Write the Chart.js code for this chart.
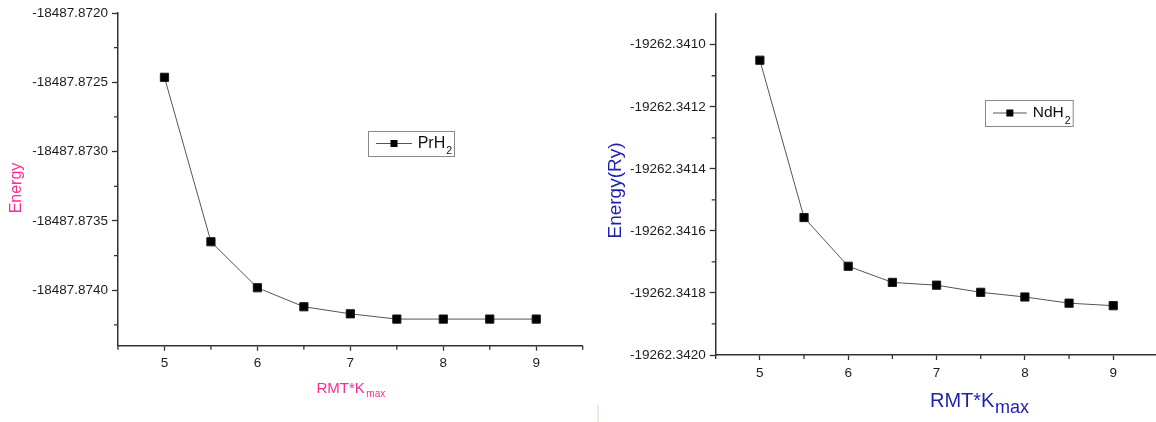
<!DOCTYPE html>
<html>
<head>
<meta charset="utf-8">
<script src="https://cdn.jsdelivr.net/npm/chart.js@4.4.1/dist/chart.umd.min.js"></script>
<style>
  html, body { margin: 0; padding: 0; background: #ffffff; overflow: hidden; width: 1156px; height: 422px; }
  .panel { position: absolute; top: 0; }
  #leftPanel { left: 0; }
  #rightPanel { left: 590px; }
  #seam { position: absolute; left: 597px; top: 405px; width: 2px; height: 17px; background: #efebdc; }
</style>
</head>
<body>
<div class="panel" id="leftPanel"><canvas id="prCanvas" width="590" height="422"></canvas></div>
<div class="panel" id="rightPanel"><canvas id="ndCanvas" width="580" height="422"></canvas></div>
<div id="seam"></div>
<script>
// RMT*Kmax convergence test: total energy vs. basis-set cutoff
const rmtKmax = [5, 5.5, 6, 6.5, 7, 7.5, 8, 8.5, 9];
const energyPrH2 = [-18487.872464, -18487.87365, -18487.873982, -18487.874119, -18487.87417,
                    -18487.874208, -18487.874208, -18487.874208, -18487.874208];
const energyNdH2 = [-19262.34105, -19262.341557, -19262.341714, -19262.341766, -19262.341775,
                    -19262.341798, -19262.341813, -19262.341833, -19262.341841];

const xTicks = [5, 6, 7, 8, 9];
const xMinorTicks = [4.5, 5.5, 6.5, 7.5, 8.5, 9.5];
const prTicks = [-18487.8720, -18487.8725, -18487.8730, -18487.8735, -18487.8740];
const prMinorTicks = [-18487.87225, -18487.87275, -18487.87325, -18487.87375, -18487.87425];
const ndTicks = [-19262.3410, -19262.3412, -19262.3414, -19262.3416, -19262.3418, -19262.3420];
const ndMinorTicks = [-19262.3411, -19262.3413, -19262.3415, -19262.3417, -19262.3419];

const FONT = '"Liberation Sans", Arial, sans-serif';
const AXIS_COLOR = '#333333';

// Short outward minor ticks, Origin style
const minorTicksPlugin = {
  id: 'minorTicks',
  afterDraw(chart, args, opts) {
    const ctx = chart.ctx;
    const xs = chart.scales.x, ys = chart.scales.y;
    const a = chart.chartArea;
    ctx.save();
    ctx.strokeStyle = AXIS_COLOR;
    ctx.lineWidth = 1.3;
    ctx.beginPath();
    opts.x.forEach(v => {
      const px = xs.getPixelForValue(v);
      ctx.moveTo(px, a.bottom);
      ctx.lineTo(px, a.bottom + 4);
    });
    opts.y.forEach(v => {
      const py = ys.getPixelForValue(v);
      ctx.moveTo(a.left, py);
      ctx.lineTo(a.left - 4, py);
    });
    ctx.stroke();
    ctx.restore();
  }
};

// Axis titles, with a subscript part on the x title
const axisTitlesPlugin = {
  id: 'axisTitles',
  afterDraw(chart, args, o) {
    const ctx = chart.ctx;
    ctx.save();
    ctx.fillStyle = o.color;
    ctx.textBaseline = 'alphabetic';
    ctx.textAlign = 'left';
    ctx.font = o.xSize + 'px ' + FONT;
    ctx.fillText(o.xMain, o.xX, o.xBase);
    const w = ctx.measureText(o.xMain).width;
    ctx.font = o.xSubSize + 'px ' + FONT;
    ctx.fillText(o.xSub, o.xX + w + o.xSubGap, o.xSubBase);
    ctx.translate(o.yX, o.yY);
    ctx.rotate(-Math.PI / 2);
    ctx.font = o.ySize + 'px ' + FONT;
    ctx.textAlign = 'center';
    ctx.textBaseline = 'middle';
    ctx.fillText(o.yText, 0, 0);
    ctx.restore();
  }
};

// Boxed legend with chemical-formula subscript
const formulaLegendPlugin = {
  id: 'formulaLegend',
  afterDraw(chart, args, o) {
    const ctx = chart.ctx;
    const ds = chart.data.datasets[0];
    const m = /^(.*?)(\d+)$/.exec(ds.label);
    const base = m ? m[1] : ds.label, sub = m ? m[2] : '';
    ctx.save();
    ctx.fillStyle = '#ffffff';
    ctx.fillRect(o.x, o.y, o.w, o.h);
    ctx.strokeStyle = '#888888';
    ctx.lineWidth = 1;
    ctx.strokeRect(o.x + 0.5, o.y + 0.5, o.w, o.h);
    const cy = o.y + o.h / 2;
    ctx.strokeStyle = ds.borderColor;
    ctx.lineWidth = 1;
    ctx.beginPath();
    ctx.moveTo(o.x + o.lineStart, cy);
    ctx.lineTo(o.x + o.lineEnd, cy);
    ctx.stroke();
    const mx = o.x + (o.lineStart + o.lineEnd) / 2;
    ctx.fillStyle = '#000000';
    ctx.fillRect(mx - 3.5, cy - 3.5, 7, 7);
    ctx.fillStyle = '#111111';
    ctx.textAlign = 'left';
    ctx.textBaseline = 'alphabetic';
    ctx.font = o.size + 'px ' + FONT;
    const tx = o.x + o.textX;
    ctx.fillText(base, tx, o.y + o.base);
    const bw = ctx.measureText(base).width;
    ctx.font = o.subSize + 'px ' + FONT;
    ctx.fillText(sub, tx + bw + 1, o.y + o.subBase);
    ctx.restore();
  }
};

function makeChart(canvasId, label, energies, yTicks, yMinor, yMin, yMax, layout, titles, legend) {
  return new Chart(document.getElementById(canvasId), {
    type: 'line',
    data: {
      datasets: [{
        label: label,
        data: rmtKmax.map((x, i) => ({ x: x, y: energies[i] })),
        borderColor: '#555555',
        borderWidth: 1,
        tension: 0,
        pointStyle: 'rect',
        pointRadius: 5.8,
        pointBackgroundColor: '#000000',
        pointBorderColor: '#1a1a1a',
        pointBorderWidth: 1
      }]
    },
    options: {
      responsive: false,
      animation: false,
      devicePixelRatio: 1,
      layout: { padding: { left: 0, top: layout.top, right: layout.right, bottom: 0 } },
      plugins: {
        legend: { display: false },
        tooltip: { enabled: false },
        minorTicks: { x: xMinorTicks, y: yMinor },
        axisTitles: titles,
        formulaLegend: legend
      },
      scales: {
        x: {
          type: 'linear',
          min: 4.5,
          max: 9.5,
          afterBuildTicks: s => { s.ticks = xTicks.map(v => ({ value: v })); },
          afterFit: s => { s.height = layout.xHeight; },
          border: { display: true, color: AXIS_COLOR, width: 1.5 },
          grid: { display: true, drawOnChartArea: false, drawTicks: true, tickLength: 5, tickWidth: 1.3, tickColor: AXIS_COLOR },
          ticks: {
            color: '#1c1c1c',
            font: { family: FONT, size: 13.5 },
            padding: layout.xPad,
            maxRotation: 0,
            callback: v => String(v)
          }
        },
        y: {
          type: 'linear',
          min: yMin,
          max: yMax,
          afterBuildTicks: s => { s.ticks = yTicks.map(v => ({ value: v })); },
          afterFit: s => { s.width = layout.yWidth; },
          border: { display: true, color: AXIS_COLOR, width: 1.5 },
          grid: { display: true, drawOnChartArea: false, drawTicks: true, tickLength: 6, tickWidth: 1.3, tickColor: AXIS_COLOR },
          ticks: {
            color: '#1c1c1c',
            font: { family: FONT, size: 13.5 },
            padding: 4,
            callback: v => v.toFixed(4)
          }
        }
      }
    },
    plugins: [minorTicksPlugin, axisTitlesPlugin, formulaLegendPlugin]
  });
}

makeChart('prCanvas', 'PrH2', energyPrH2, prTicks, prMinorTicks, -18487.8744, -18487.8720,
  { top: 13, right: 7.3, yWidth: 118, xHeight: 76.3, xPad: 4.5 },
  { color: '#ff2a92', xMain: 'RMT*K', xSub: 'max', xSize: 15, xSubSize: 10, xX: 316.5, xBase: 392.7,
    xSubGap: 1.5, xSubBase: 396.5, yText: 'Energy', ySize: 16, yX: 16.5, yY: 188 },
  { x: 368, y: 131, w: 86, h: 25, lineStart: 8, lineEnd: 44, textX: 49.7, size: 16, base: 17.3,
    subSize: 10.5, subBase: 23.3 });

makeChart('ndCanvas', 'NdH2', energyNdH2, ndTicks, ndMinorTicks, -19262.3420, -19262.3409,
  { top: 13.7, right: 12.6, yWidth: 125.7, xHeight: 67, xPad: 5.5 },
  { color: '#1f1fb0', xMain: 'RMT*K', xSub: 'max', xSize: 20, xSubSize: 18, xX: 340, xBase: 406.7,
    xSubGap: 0.5, xSubBase: 413.3, yText: 'Energy(Ry)', ySize: 19, yX: 25.5, yY: 190.5 },
  { x: 395, y: 100, w: 87.7, h: 26, lineStart: 8, lineEnd: 41.7, textX: 47.7, size: 15.5, base: 17.3,
    subSize: 10.5, subBase: 24 });
</script>
</body>
</html>
